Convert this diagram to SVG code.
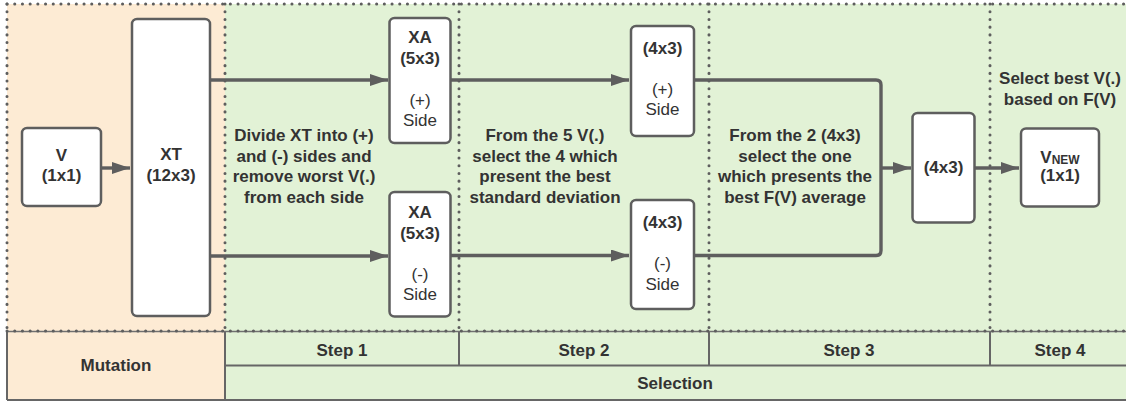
<svg xmlns="http://www.w3.org/2000/svg" width="1126" height="401" viewBox="0 0 1126 401">
  <style>
    .node { fill: #ffffff; stroke: #5e5e5e; stroke-width: 2.5; }
    .dot { fill: none; stroke: #5e5e5e; stroke-width: 3; stroke-dasharray: 0.1 7.6; stroke-linecap: round; }
    .grid { fill: none; stroke: #666666; stroke-width: 2; }
    .wire { fill: none; stroke: #5e5e5e; stroke-width: 3.4; stroke-linejoin: round; }
    text { font-family: "Liberation Sans", Arial, sans-serif; font-size: 17px; fill: #333333; text-anchor: middle; }
    .b { font-weight: bold; }
  </style>
  <defs>
    <marker id="head" markerUnits="userSpaceOnUse" markerWidth="18" markerHeight="12" refX="18" refY="6" orient="auto">
      <path d="M0,0 L18,6 L0,12 z" fill="#5e5e5e"/>
    </marker>
  </defs>

  <!-- phase backgrounds -->
  <g id="background">
    <rect x="7" y="4" width="218" height="327" fill="#fdebd4"/>
    <rect x="225" y="4" width="901" height="327" fill="#e2f2d6"/>
    <rect x="7" y="331" width="218" height="69" fill="#fdebd4"/>
    <rect x="225" y="331" width="901" height="69" fill="#e2f2d6"/>
  </g>

  <!-- phase table -->
  <g id="table">
    <line class="grid" x1="225" y1="365.5" x2="1126" y2="365.5"/>
    <line class="grid" x1="7" y1="400" x2="1126" y2="400"/>
    <line class="grid" x1="7" y1="331" x2="7" y2="400"/>
    <line class="grid" x1="225" y1="331" x2="225" y2="400"/>
    <line class="grid" x1="459" y1="331" x2="459" y2="365.5"/>
    <line class="grid" x1="709" y1="331" x2="709" y2="365.5"/>
    <line class="grid" x1="990" y1="331" x2="990" y2="365.5"/>
    <line x1="7" y1="331.5" x2="1126" y2="331.5" stroke="#707070" stroke-width="1.5"/>
    <text class="b" x="116" y="371">Mutation</text>
    <text class="b" x="342" y="356">Step 1</text>
    <text class="b" x="584" y="356">Step 2</text>
    <text class="b" x="849" y="356">Step 3</text>
    <text class="b" x="1060" y="356">Step 4</text>
    <text class="b" x="675" y="389">Selection</text>
  </g>

  <!-- dotted phase borders -->
  <g id="borders">
    <line class="dot" x1="7" y1="4" x2="1126" y2="4"/>
    <line class="dot" x1="7" y1="331" x2="1126" y2="331"/>
    <line class="dot" x1="7" y1="4" x2="7" y2="331"/>
    <line class="dot" x1="225" y1="4" x2="225" y2="331"/>
    <line class="dot" x1="459" y1="4" x2="459" y2="331"/>
    <line class="dot" x1="709" y1="4" x2="709" y2="331"/>
    <line class="dot" x1="990" y1="4" x2="990" y2="331"/>
  </g>

  <!-- step descriptions -->
  <g id="notes">
    <text class="b" x="304" y="141">Divide XT into (+)</text>
    <text class="b" x="304" y="161.5">and (-) sides and</text>
    <text class="b" x="304" y="182">remove worst V(.)</text>
    <text class="b" x="304" y="202.5">from each side</text>
    <text class="b" x="545" y="141">From the 5 V(.)</text>
    <text class="b" x="545" y="161.5">select the 4 which</text>
    <text class="b" x="545" y="182">present the best</text>
    <text class="b" x="545" y="202.5">standard deviation</text>
    <text class="b" x="795" y="141">From the 2 (4x3)</text>
    <text class="b" x="795" y="161.5">select the one</text>
    <text class="b" x="795" y="182">which presents the</text>
    <text class="b" x="795" y="202.5">best F(V) average</text>
    <text class="b" x="1060" y="84">Select best V(.)</text>
    <text class="b" x="1060" y="104.5">based on F(V)</text>
  </g>

  <!-- connectors -->
  <g id="connectors">
    <line class="wire" x1="101" y1="168" x2="130" y2="168" marker-end="url(#head)"/>
    <line class="wire" x1="210" y1="80" x2="388" y2="80" marker-end="url(#head)"/>
    <line class="wire" x1="210" y1="256" x2="388" y2="256" marker-end="url(#head)"/>
    <line class="wire" x1="451" y1="80" x2="629" y2="80" marker-end="url(#head)"/>
    <line class="wire" x1="451" y1="255.5" x2="629" y2="255.5" marker-end="url(#head)"/>
    <path class="wire" d="M694,80 H876 Q881,80 881,85 V250.5 Q881,255.5 876,255.5 H694"/>
    <line class="wire" x1="881" y1="168" x2="911" y2="168" marker-end="url(#head)"/>
    <line class="wire" x1="974" y1="168" x2="1019" y2="168" marker-end="url(#head)"/>
  </g>

  <!-- nodes -->
  <g id="node-v">
    <rect class="node" x="22" y="128" width="79" height="78" rx="5"/>
    <text class="b" x="61.5" y="161">V</text>
    <text class="b" x="61.5" y="181">(1x1)</text>
  </g>
  <g id="node-xt">
    <rect class="node" x="132" y="19" width="78" height="297" rx="5"/>
    <text class="b" x="171" y="160">XT</text>
    <text class="b" x="171" y="181">(12x3)</text>
  </g>
  <g id="node-xa-plus">
    <rect class="node" x="389.5" y="18" width="61" height="125" rx="5"/>
    <text class="b" x="420" y="43">XA</text>
    <text class="b" x="420" y="64">(5x3)</text>
    <text x="420" y="106">(+)</text>
    <text x="420" y="126">Side</text>
  </g>
  <g id="node-xa-minus">
    <rect class="node" x="389.5" y="192" width="61" height="124.5" rx="5"/>
    <text class="b" x="420" y="218">XA</text>
    <text class="b" x="420" y="239">(5x3)</text>
    <text x="420" y="280">(-)</text>
    <text x="420" y="300">Side</text>
  </g>
  <g id="node-plus-4x3">
    <rect class="node" x="631" y="26" width="63" height="110" rx="5"/>
    <text class="b" x="662.5" y="54">(4x3)</text>
    <text x="662.5" y="95">(+)</text>
    <text x="662.5" y="115">Side</text>
  </g>
  <g id="node-minus-4x3">
    <rect class="node" x="631" y="200" width="63" height="109" rx="5"/>
    <text class="b" x="662.5" y="228">(4x3)</text>
    <text x="662.5" y="269">(-)</text>
    <text x="662.5" y="290">Side</text>
  </g>
  <g id="node-best-4x3">
    <rect class="node" x="912.5" y="113" width="62" height="109.5" rx="5"/>
    <text class="b" x="943.5" y="173">(4x3)</text>
  </g>
  <g id="node-vnew">
    <rect class="node" x="1021" y="128.5" width="78" height="78" rx="5"/>
    <text class="b" x="1060" y="163">V<tspan font-size="12" dy="1">NEW</tspan></text>
    <text class="b" x="1060" y="181">(1x1)</text>
  </g>
</svg>
